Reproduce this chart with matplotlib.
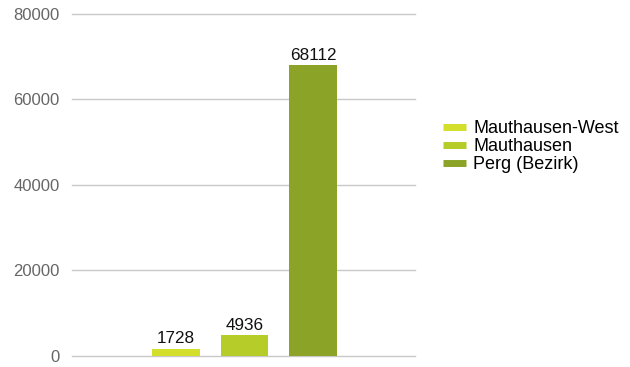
import matplotlib
matplotlib.use("Agg")
import matplotlib.pyplot as plt
from matplotlib.lines import Line2D

categories = ["Mauthausen-West", "Mauthausen", "Perg (Bezirk)"]
values = [1728, 4936, 68112]
colors = ["#d4df2b", "#b6cc29", "#8ba326"]
yticks = [0, 20000, 40000, 60000, 80000]

plt.rcParams['font.family'] = ['Liberation Sans', 'DejaVu Sans']

fig = plt.figure(figsize=(6.3, 3.67), dpi=100)
ax = fig.add_axes([0.1143, 0.030, 0.5444, 0.932])

x = list(range(len(categories)))
ax.bar(x, values, width=0.70, color=colors, zorder=3)
for xi, v in zip(x, values):
    ax.text(xi, v + 500, str(v), ha='center', va='bottom', fontsize=12.3, color='#111111')

ax.set_xlim(-1.52, 3.49)
ax.set_ylim(0, 80000)
ax.set_yticks(yticks)
ax.set_yticklabels([str(t) for t in yticks], fontsize=12, color='#666666')
ax.set_xticks([])
ax.tick_params(axis='y', length=0, pad=9)
ax.grid(axis='y', color='#c8c8c8', linewidth=1, zorder=0)
for gl in ax.get_ygridlines():
    gl.set_clip_on(False)
for s in ax.spines.values():
    s.set_visible(False)

handles = [Line2D([0], [0], color=c, lw=5, solid_capstyle='butt') for c in colors]
fig.legend(handles, categories, loc='upper left', bbox_to_anchor=(0.703, 0.672),
           frameon=False, fontsize=13, handlelength=1.27, handletextpad=0.4,
           labelspacing=0.05, borderaxespad=0, borderpad=0)

fig.savefig("out.png", dpi=100)
